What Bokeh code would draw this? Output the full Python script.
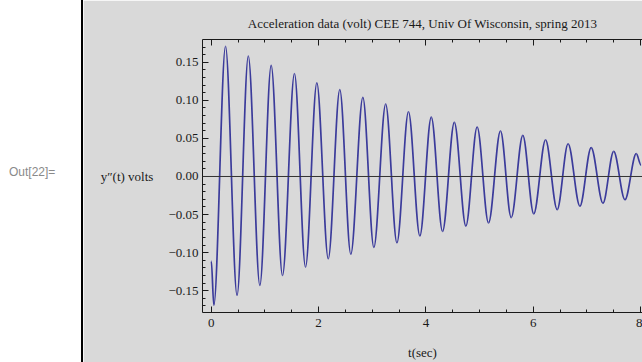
from bokeh.plotting import figure
from bokeh.models import Range1d, LinearAxis, FixedTicker, Span, Div
from bokeh.layouts import row
from bokeh.embed import file_html
from bokeh.resources import INLINE

# ---- data (extrema of the decaying acceleration trace) ----
t_ext = [0.0, 0.047, 0.265, 0.48, 0.69, 0.905, 1.116, 1.327, 1.55, 1.756, 1.967,
         2.18, 2.395, 2.60, 2.825, 3.03, 3.25, 3.46, 3.675, 3.887, 4.10, 4.31,
         4.53, 4.745, 4.955, 5.167, 5.39, 5.59, 5.806, 6.01, 6.23, 6.447, 6.65,
         6.87, 7.08, 7.30, 7.50, 7.71, 7.92, 8.01]
y_ext = [-0.111, -0.169, 0.171, -0.156, 0.158, -0.143, 0.146, -0.130, 0.135,
         -0.119, 0.123, -0.108, 0.114, -0.102, 0.104, -0.093, 0.095, -0.087,
         0.085, -0.078, 0.078, -0.072, 0.071, -0.065, 0.065, -0.061, 0.060,
         -0.054, 0.054, -0.049, 0.048, -0.0435, 0.043, -0.039, 0.038, -0.035,
         0.033, -0.0305, 0.030, 0.015]

x_major = [0, 2, 4, 6, 8]
x_minor = [0.5, 1, 1.5, 2.5, 3, 3.5, 4.5, 5, 5.5, 6.5, 7, 7.5]
y_major = [-0.15, -0.10, -0.05, 0.0, 0.05, 0.10, 0.15]
y_labels = ["\u22120.15", "\u22120.10", "\u22120.05", "0.00", "0.05", "0.10", "0.15"]
y_minor = [-0.17, -0.16, -0.14, -0.13, -0.12, -0.11, -0.09, -0.08, -0.07, -0.06,
           -0.04, -0.03, -0.02, -0.01, 0.01, 0.02, 0.03, 0.04, 0.06, 0.07, 0.08,
           0.09, 0.11, 0.12, 0.13, 0.14, 0.16, 0.17]

title_text = "Acceleration data (volt) CEE 744, Univ Of Wisconsin, spring 2013"
x_label = "t(sec)"
y_label = "y\u2033(t) volts"
out_label = "Out[22]="

GREY = "#d9d9d9"
SERIF = "Liberation Serif"
LINE = "#3b3b9b"
TXT = "#1a1a1a"

# ---- notebook gutter ----
gutter = Div(
    text=('<div style="position:relative;width:83px;height:362px;background:#ffffff;">'
          '<div style="position:absolute;left:81px;top:0px;width:2px;height:362px;background:#000000;"></div>'
          '<div style="position:absolute;left:9px;top:164px;font-family:\'Liberation Sans\';'
          'font-size:12px;line-height:16px;color:#8a8a8a;white-space:nowrap;">'
          + out_label + '</div></div>'),
    width=83, height=362, margin=0,
    styles={"background-color": "#ffffff"})

# ---- main plot ----
p = figure(width=559, height=362,
           x_range=Range1d(-0.164, 8.037), y_range=Range1d(-0.1786, 0.1799),
           output_backend="svg", toolbar_location=None,
           x_axis_location=None, y_axis_location=None,
           min_border_left=119, min_border_right=0, min_border_top=39,
           min_border_bottom=47,
           background_fill_color=GREY, border_fill_color=GREY,
           outline_line_color=None, margin=0)
p.grid.visible = False

p.title.text = title_text
p.title.align = "center"
p.title.text_font = SERIF
p.title.text_font_size = "13px"
p.title.text_font_style = "normal"
p.title.text_color = TXT
p.title.standoff = 17


def style_axis(ax, labels=True):
    ax.axis_line_color = TXT
    ax.axis_line_width = 1
    ax.major_tick_line_color = TXT
    ax.minor_tick_line_color = TXT
    ax.major_tick_in = 6
    ax.major_tick_out = 0
    ax.minor_tick_in = 3
    ax.minor_tick_out = 0
    ax.major_label_text_font = SERIF
    ax.major_label_text_font_size = "13px"
    ax.major_label_text_color = TXT if labels else None
    ax.axis_label_text_font = SERIF
    ax.axis_label_text_font_size = "13px"
    ax.axis_label_text_font_style = "normal"
    ax.axis_label_text_color = TXT


xb = LinearAxis(ticker=FixedTicker(ticks=x_major, minor_ticks=x_minor),
                axis_label=x_label)
style_axis(xb)
xb.major_label_standoff = 6
xb.axis_label_standoff = 15
p.add_layout(xb, "below")

xa = LinearAxis(ticker=FixedTicker(ticks=x_major, minor_ticks=x_minor))
style_axis(xa, labels=False)
xa.major_label_text_font_size = "1px"
xa.major_label_standoff = 0
p.add_layout(xa, "above")

yl = LinearAxis(ticker=FixedTicker(ticks=y_major, minor_ticks=y_minor),
                axis_label=y_label)
style_axis(yl)
yl.major_label_standoff = 4
yl.axis_label_standoff = 12
yl.axis_label_orientation = "horizontal"
yl.major_label_overrides = {v: s for v, s in zip(y_major, y_labels)}
p.add_layout(yl, "left")

# zero axis line
p.add_layout(Span(location=0, dimension="width", line_color="#333333", line_width=1))

# trace: smooth segments between successive extrema
x0 = t_ext[:-1]
x1 = t_ext[1:]
y0 = y_ext[:-1]
y1 = y_ext[1:]
cx0 = [a + (b - a) / 3 for a, b in zip(x0, x1)]
cx1 = [b - (b - a) / 3 for a, b in zip(x0, x1)]
p.bezier(x0=x0, y0=y0, x1=x1, y1=y1, cx0=cx0, cy0=y0, cx1=cx1, cy1=y1,
         line_color=LINE, line_width=1.7)

layout = row(gutter, p, spacing=0)
open("out.html", "w").write(file_html(layout, INLINE))
